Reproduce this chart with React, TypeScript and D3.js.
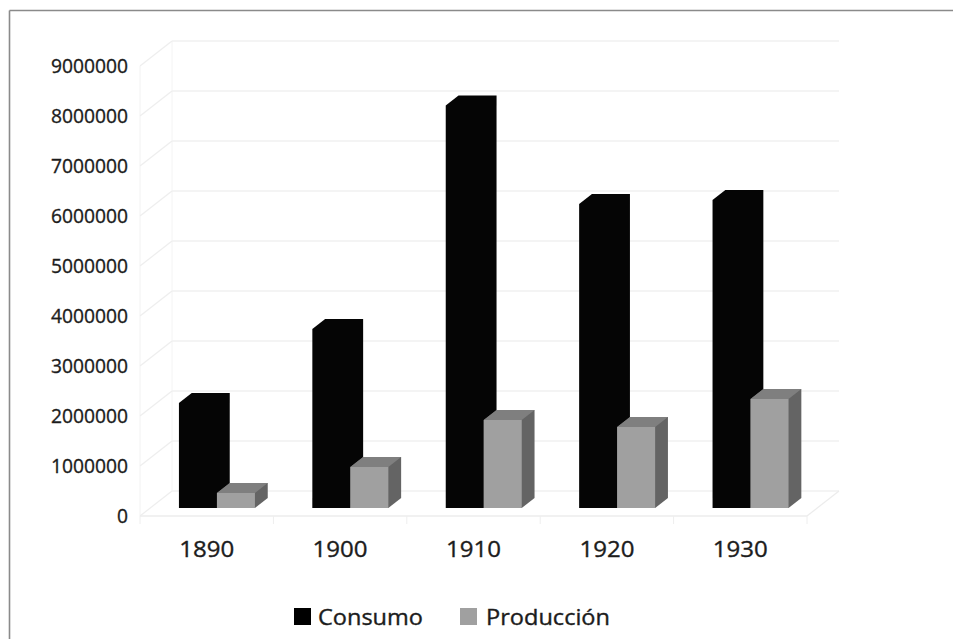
import React from "react";
import * as d3 from "d3";

// Consumo y producción por década
const categories = ["1890", "1900", "1910", "1920", "1930"];
const seriesNames = ["Consumo", "Producción"];
const consumo = [2100000, 3580000, 8050000, 6080000, 6160000];
const produccion = [300000, 820000, 1760000, 1620000, 2180000];
const yTicks = [0, 1000000, 2000000, 3000000, 4000000, 5000000, 6000000, 7000000, 8000000, 9000000];

const W = 953;
const H = 639;

// oblique depth of the plot box (front plane -> back wall)
const DEPTH = { x: 32, y: -25 };
const BAR_F0 = 0.32; // bar front position within the depth
const BAR_F1 = 0.72; // bar back position

const FONT = "'Open Sans', Lato, sans-serif";
const TEXT_FILL = "#1c1c1c";

const faceColors = [
  { front: "#050505", top: "#050505", side: "#050505", legend: "#000000" },
  { front: "#a0a0a0", top: "#7f7f7f", side: "#646464", legend: "#a0a0a0" },
];

export default function App() {
  const y = d3.scaleLinear().domain([0, 9000000]).range([516, 66]);
  const x = d3.scaleBand<string>().domain(categories).range([140, 807]).paddingInner(0).paddingOuter(0);
  const groupW = 76;
  const xs = d3.scaleBand<string>().domain(seriesNames).range([0, groupW]);

  const proj = (px: number, v: number, f: number): [number, number] => [
    px + f * DEPTH.x,
    y(v) + f * DEPTH.y,
  ];
  const pts = (arr: [number, number][]) => arr.map((p) => p.join(",")).join(" ");

  const values = [consumo, produccion];

  const x0 = x.range()[0];
  const x1 = x.range()[1];
  const yMax = yTicks[yTicks.length - 1];

  const bars: React.ReactNode[] = [];
  categories.forEach((c, i) => {
    const gx = (x(c) as number) + x.bandwidth() / 2 - groupW / 2;
    seriesNames.forEach((s, si) => {
      const v = values[si][i];
      const bx0 = gx + (xs(s) as number);
      const bx1 = bx0 + xs.bandwidth();
      const col = faceColors[si];
      // full outline of the visible block, filled with the side shade
      const silhouette: [number, number][] = [
        proj(bx0, 0, BAR_F0),
        proj(bx1, 0, BAR_F0),
        proj(bx1, 0, BAR_F1),
        proj(bx1, v, BAR_F1),
        proj(bx0, v, BAR_F1),
        proj(bx0, v, BAR_F0),
      ];
      const front: [number, number][] = [
        proj(bx0, 0, BAR_F0),
        proj(bx1, 0, BAR_F0),
        proj(bx1, v, BAR_F0),
        proj(bx0, v, BAR_F0),
      ];
      const top: [number, number][] = [
        proj(bx0, v, BAR_F0),
        proj(bx1, v, BAR_F0),
        proj(bx1, v, BAR_F1),
        proj(bx0, v, BAR_F1),
      ];
      bars.push(
        <g key={c + s}>
          <polygon points={pts(silhouette)} fill={col.side} />
          {si > 0 && <polygon points={pts(top)} fill={col.top} />}
          {si > 0 && <polygon points={pts(front)} fill={col.front} />}
        </g>
      );
    });
  });

  const textProps = {
    fontFamily: FONT,
    fill: TEXT_FILL,
    stroke: TEXT_FILL,
    strokeWidth: 0.35,
    lengthAdjust: "spacingAndGlyphs",
  } as const;

  return (
    <div style={{ position: "fixed", left: 0, top: 0, width: W, height: H, background: "#fff" }}>
      <svg width={W} height={H} viewBox={`0 0 ${W} ${H}`} style={{ display: "block" }}>
        <rect x={0} y={0} width={W} height={H} fill="#ffffff" />
        {/* outer frame */}
        <line x1={9.5} y1={10.5} x2={W} y2={10.5} stroke="#8a8a8a" strokeWidth={1.6} />
        <line x1={9.5} y1={10.5} x2={9.5} y2={H} stroke="#8a8a8a" strokeWidth={1.6} />

        {/* walls */}
        <line x1={x0} y1={y(0)} x2={x0} y2={y(yMax)} stroke="#f2f2f2" strokeWidth={1} />
        <line x1={x0 + DEPTH.x} y1={y(0) + DEPTH.y} x2={x0 + DEPTH.x} y2={y(yMax) + DEPTH.y} stroke="#f4f4f4" strokeWidth={1} />

        {/* gridlines: left wall diagonal + back wall horizontal */}
        {yTicks.map((t) => (
          <g key={"g" + t}>
            <line x1={x0} y1={y(t)} x2={x0 + DEPTH.x} y2={y(t) + DEPTH.y} stroke="#eeeeee" strokeWidth={1.2} />
            <line x1={x0 + DEPTH.x} y1={y(t) + DEPTH.y} x2={x1 + DEPTH.x} y2={y(t) + DEPTH.y} stroke="#f0f0f0" strokeWidth={1.6} />
          </g>
        ))}

        {/* floor outline */}
        <line x1={x0} y1={y(0)} x2={x1} y2={y(0)} stroke="#ececec" strokeWidth={1.5} />
        <line x1={x1} y1={y(0)} x2={x1 + DEPTH.x} y2={y(0) + DEPTH.y} stroke="#ececec" strokeWidth={1.2} />
        {[...categories.map((c) => x(c) as number), x1].map((tx, i) => (
          <line key={"t" + i} x1={tx} y1={y(0)} x2={tx} y2={y(0) + 8} stroke="#eeeeee" strokeWidth={1} />
        ))}

        {bars}

        {/* value axis labels */}
        {yTicks.map((t) => {
          const label = String(t);
          return (
            <text
              key={"y" + t}
              x={128}
              y={y(t) + 7.3}
              textAnchor="end"
              fontSize={20}
              textLength={label.length * 11}
              {...textProps}
            >
              {label}
            </text>
          );
        })}

        {/* category labels */}
        {categories.map((c) => (
          <text
            key={"c" + c}
            x={(x(c) as number) + x.bandwidth() / 2}
            y={557}
            textAnchor="middle"
            fontSize={22}
            textLength={55}
            {...textProps}
          >
            {c}
          </text>
        ))}

        {/* legend */}
        <rect x={294} y={608} width={17} height={17} fill={faceColors[0].legend} />
        <text x={318} y={625} fontSize={21} textLength={105} {...textProps}>
          {seriesNames[0]}
        </text>
        <rect x={460} y={608} width={17} height={17} fill={faceColors[1].legend} />
        <text x={486} y={625} fontSize={21} textLength={124} {...textProps}>
          {seriesNames[1]}
        </text>
      </svg>
    </div>
  );
}
